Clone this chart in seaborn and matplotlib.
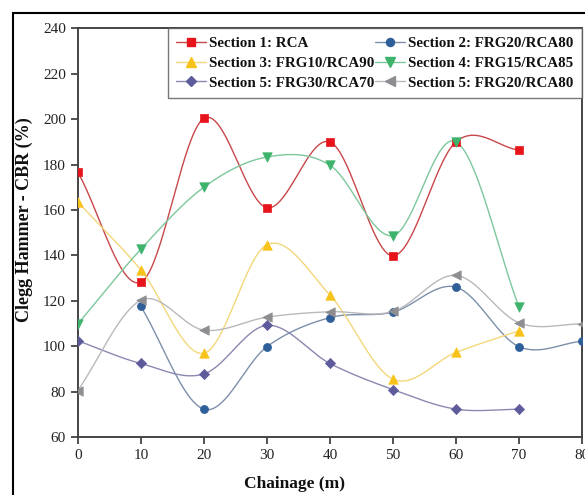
import numpy as np
import pandas as pd
import matplotlib
matplotlib.use("Agg")
import matplotlib.pyplot as plt
import seaborn as sns
from matplotlib.lines import Line2D
from matplotlib.patches import Rectangle

# ---- data ----
s1_x = [0, 10, 20, 30, 40, 50, 60, 70]
s1_y = [176.6, 128.2, 200.3, 161.0, 189.9, 139.8, 190.0, 186.3]
s2_x = [10, 20, 30, 40, 50, 60, 70, 80]
s2_y = [117.5, 72.3, 99.8, 112.6, 115.0, 126.0, 99.8, 102.2]
s3_x = [0, 10, 20, 30, 40, 50, 60, 70]
s3_y = [163.5, 133.6, 96.9, 144.7, 122.5, 85.5, 97.3, 106.8]
s4_x = [0, 10, 20, 30, 40, 50, 60, 70]
s4_y = [109.8, 142.7, 170.0, 183.3, 179.7, 148.7, 190.0, 117.2]
s5a_x = [0, 10, 20, 30, 40, 50, 60, 70]
s5a_y = [102.4, 92.4, 87.8, 109.2, 92.4, 80.9, 72.3, 72.3]
s5b_x = [0, 10, 20, 30, 40, 50, 60, 70, 80]
s5b_y = [80.5, 120.2, 107.1, 112.8, 115.2, 115.3, 131.2, 110.3, 109.8]

labels = ["Section 1: RCA", "Section 2: FRG20/RCA80", "Section 3: FRG10/RCA90",
          "Section 4: FRG15/RCA85", "Section 5: FRG30/RCA70", "Section 5: FRG20/RCA80"]
xticks = [0, 10, 20, 30, 40, 50, 60, 70, 80]
yticks = [60, 80, 100, 120, 140, 160, 180, 200, 220, 240]


def smooth_curve(x, y, n=40):
    """Catmull-Rom style cubic Hermite curve through the data points."""
    x = np.asarray(x, float); y = np.asarray(y, float)
    k = len(x)
    m = np.zeros(k)
    m[0] = (y[1] - y[0]) / (x[1] - x[0])
    m[-1] = (y[-1] - y[-2]) / (x[-1] - x[-2])
    for i in range(1, k - 1):
        m[i] = (y[i + 1] - y[i - 1]) / (x[i + 1] - x[i - 1])
    xs, ys = [], []
    for i in range(k - 1):
        h = x[i + 1] - x[i]
        t = np.linspace(0, 1, n, endpoint=(i == k - 2))
        h00 = 2 * t**3 - 3 * t**2 + 1
        h10 = t**3 - 2 * t**2 + t
        h01 = -2 * t**3 + 3 * t**2
        h11 = t**3 - t**2
        xs.append(x[i] + t * h)
        ys.append(h00 * y[i] + h10 * h * m[i] + h01 * y[i + 1] + h11 * h * m[i + 1])
    return np.concatenate(xs), np.concatenate(ys)


series = [
    (s1_x, s1_y, labels[0], "#e8141c", "#c8474a", "s", 5.2),
    (s2_x, s2_y, labels[1], "#2f5f98", "#7d8fab", "o", 5.8),
    (s3_x, s3_y, labels[2], "#f7c21a", "#f3d77a", "^", 6.8),
    (s4_x, s4_y, labels[3], "#3db36b", "#7cc79c", "v", 6.8),
    (s5a_x, s5a_y, labels[4], "#5e5b9c", "#8a88b0", "D", 5.2),
    (s5b_x, s5b_y, labels[5], "#8e8e92", "#b9b9bd", "<", 6.8),
]

sns.set_theme(style="white")
plt.rcParams["font.family"] = ["Liberation Serif", "DejaVu Serif"]

fig = plt.figure(figsize=(5.85, 4.95), dpi=100)
ax = fig.add_axes([0.133, 0.117, 0.862, 0.826])

handles = {}
for x, y, lab, mc, lc, mk, ms in series:
    xs, ys = smooth_curve(x, y)
    sns.lineplot(x=xs, y=ys, ax=ax, color=lc, lw=1.0, sort=False, estimator=None)
    df = pd.DataFrame({"x": x, "y": y})
    sns.scatterplot(data=df, x="x", y="y", ax=ax, marker=mk, s=ms ** 2,
                    color=mc, edgecolor=mc, linewidth=0.5, zorder=5)
    handles[lab] = Line2D([], [], color=lc, lw=1.0, marker=mk, markersize=ms,
                          markerfacecolor=mc, markeredgecolor=mc)

ax.set_xlim(0, 80)
ax.set_ylim(60, 240)
ax.set_xticks(xticks)
ax.set_yticks(yticks)
ax.tick_params(axis="both", direction="out", length=5, width=1.2, colors="#333333",
               labelsize=11, labelcolor="#222222", bottom=True, left=True)
for sp in ax.spines.values():
    sp.set_color("#444444")
    sp.set_linewidth(1.4)
ax.set_xlabel("Chainage (m)", fontsize=12.5, fontweight="bold", color="#111111")
ax.xaxis.set_label_coords(0.43, -0.095)
ax.set_ylabel("Clegg Hammer - CBR (%)", fontsize=13, fontweight="bold", color="#111111")
ax.yaxis.set_label_coords(-0.089, 0.533)

order = [labels[0], labels[2], labels[4], labels[1], labels[3], labels[5]]
leg = ax.legend([handles[k] for k in order], order, ncol=2, loc="upper right",
                bbox_to_anchor=(1.0, 1.0), frameon=True, fancybox=False,
                prop={"weight": "bold", "size": 10.8}, handlelength=2.0,
                handletextpad=0.2, columnspacing=0.05, labelspacing=0.42,
                borderpad=0.55, borderaxespad=0.0)
leg.get_frame().set_edgecolor("#555555")
leg.get_frame().set_linewidth(1.0)
for t in leg.get_texts():
    t.set_color("#111111")

fig.patches.append(Rectangle((13 / 585, -0.1), 1.2, 1 - 13 / 495 + 0.1,
                             transform=fig.transFigure, fill=False,
                             edgecolor="black", lw=1.5))

fig.savefig("out.png", dpi=100)
